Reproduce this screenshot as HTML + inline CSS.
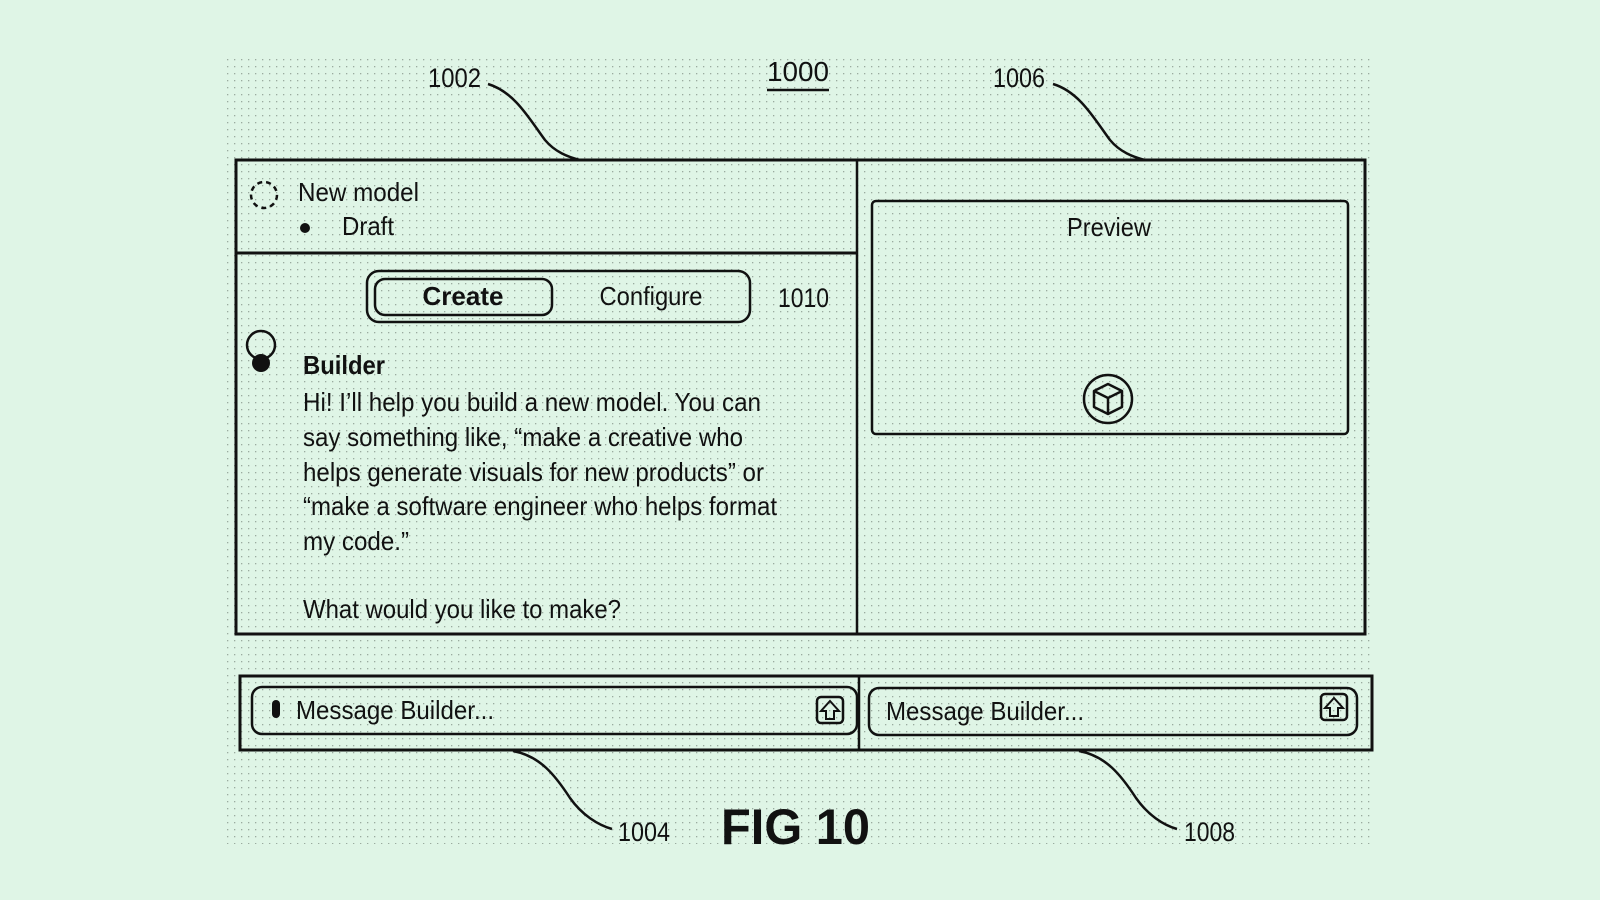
<!DOCTYPE html>
<html><head><meta charset="utf-8"><style>
html,body{margin:0;padding:0;background:#dff5e6;}
svg{display:block;}
text{font-family:"Liberation Sans",sans-serif;fill:#111;}
</style></head><body>
<svg width="1600" height="900" viewBox="0 0 1600 900" xmlns="http://www.w3.org/2000/svg">
<defs>
<pattern id="dots" width="7" height="7" patternUnits="userSpaceOnUse">
<rect x="3" y="3" width="1.3" height="1.3" fill="#9aab9f"/>
</pattern>
</defs>
<rect width="1600" height="900" fill="#dff5e6"/>
<rect x="224" y="54" width="1147" height="790" fill="url(#dots)"/>

<text x="767" y="81" font-size="28" textLength="62" lengthAdjust="spacingAndGlyphs">1000</text>
<line x1="767" y1="90" x2="829" y2="90" stroke="#111" stroke-width="2.5"/>
<text x="428" y="87" font-size="27" textLength="53" lengthAdjust="spacingAndGlyphs">1002</text>
<path d="M488 84 C515 92 530 120 545 140 C555 152 568 157 580 160" fill="none" stroke="#111" stroke-width="2.5"/>
<text x="993" y="87" font-size="27" textLength="52" lengthAdjust="spacingAndGlyphs">1006</text>
<path d="M1053 84 C1080 92 1095 120 1110 140 C1120 152 1133 157 1145 160" fill="none" stroke="#111" stroke-width="2.5"/>

<rect x="236" y="160" width="1129" height="474" fill="none" stroke="#111" stroke-width="3"/>
<line x1="857" y1="160" x2="857" y2="634" stroke="#111" stroke-width="2.5"/>
<line x1="236" y1="253" x2="857" y2="253" stroke="#111" stroke-width="3"/>

<circle cx="264" cy="195" r="13" fill="none" stroke="#111" stroke-width="2.5" stroke-dasharray="5 4"/>
<text x="298" y="201" font-size="26" textLength="121" lengthAdjust="spacingAndGlyphs">New model</text>
<circle cx="305" cy="228" r="5" fill="#111"/>
<text x="342" y="235" font-size="26" textLength="52" lengthAdjust="spacingAndGlyphs">Draft</text>

<rect x="367" y="271" width="383" height="51" rx="12" fill="none" stroke="#111" stroke-width="2.5"/>
<rect x="375" y="279" width="177" height="36" rx="10" fill="none" stroke="#111" stroke-width="2.5"/>
<text x="463" y="305" font-size="26" font-weight="bold" text-anchor="middle">Create</text>
<text x="651" y="305" font-size="26" text-anchor="middle" textLength="103" lengthAdjust="spacingAndGlyphs">Configure</text>
<text x="778" y="307" font-size="27" textLength="51" lengthAdjust="spacingAndGlyphs">1010</text>

<circle cx="261" cy="345" r="14" fill="none" stroke="#111" stroke-width="2.5"/>
<circle cx="261" cy="363" r="9" fill="#111"/>
<text x="303" y="374" font-size="26" font-weight="bold" textLength="82" lengthAdjust="spacingAndGlyphs">Builder</text>
<text x="303" y="411" font-size="26" textLength="458" lengthAdjust="spacingAndGlyphs">Hi! I’ll help you build a new model. You can</text>
<text x="303" y="446" font-size="26" textLength="440" lengthAdjust="spacingAndGlyphs">say something like, “make a creative who</text>
<text x="303" y="481" font-size="26" textLength="461" lengthAdjust="spacingAndGlyphs">helps generate visuals for new products” or</text>
<text x="303" y="515" font-size="26" textLength="474" lengthAdjust="spacingAndGlyphs">“make a software engineer who helps format</text>
<text x="303" y="550" font-size="26" textLength="106" lengthAdjust="spacingAndGlyphs">my code.”</text>
<text x="303" y="618" font-size="26" textLength="318" lengthAdjust="spacingAndGlyphs">What would you like to make?</text>

<rect x="872" y="201" width="476" height="233" rx="4" fill="none" stroke="#111" stroke-width="2.5"/>
<text x="1109" y="236" font-size="26" text-anchor="middle" textLength="84" lengthAdjust="spacingAndGlyphs">Preview</text>
<circle cx="1108" cy="399" r="24" fill="none" stroke="#111" stroke-width="2.5"/>
<path d="M1094 391 L1108 384 L1122 391 L1122 407 L1108 414 L1094 407 Z M1094 391 L1108 398 L1122 391 M1108 398 L1108 414" fill="none" stroke="#111" stroke-width="2.5" stroke-linejoin="round"/>

<rect x="240" y="676" width="1132" height="74" fill="none" stroke="#111" stroke-width="3"/>
<line x1="859" y1="676" x2="859" y2="750" stroke="#111" stroke-width="2.5"/>
<rect x="252" y="687" width="605" height="47" rx="10" fill="none" stroke="#111" stroke-width="2.5"/>
<rect x="869" y="688" width="488" height="47" rx="10" fill="none" stroke="#111" stroke-width="2.5"/>
<rect x="272" y="700" width="8" height="18" rx="4" fill="#111"/>
<text x="296" y="719" font-size="26" textLength="198" lengthAdjust="spacingAndGlyphs">Message Builder...</text>
<text x="886" y="720" font-size="26" textLength="198" lengthAdjust="spacingAndGlyphs">Message Builder...</text>
<rect x="817" y="697" width="26" height="26" rx="4" fill="none" stroke="#111" stroke-width="2.5"/>
<path d="M830 701 L839 711 L834 711 L834 719 L826 719 L826 711 L821 711 Z" fill="none" stroke="#111" stroke-width="2"/>
<rect x="1321" y="694" width="26" height="26" rx="4" fill="none" stroke="#111" stroke-width="2.5"/>
<path d="M1334 698 L1343 708 L1338 708 L1338 716 L1330 716 L1330 708 L1325 708 Z" fill="none" stroke="#111" stroke-width="2"/>

<path d="M513 751 C540 756 555 775 570 798 C582 815 598 825 612 829" fill="none" stroke="#111" stroke-width="2.5"/>
<text x="618" y="841" font-size="27" textLength="52" lengthAdjust="spacingAndGlyphs">1004</text>
<path d="M1079 751 C1106 756 1121 775 1136 798 C1148 815 1163 825 1177 829" fill="none" stroke="#111" stroke-width="2.5"/>
<text x="1184" y="841" font-size="27" textLength="51" lengthAdjust="spacingAndGlyphs">1008</text>
<text x="721" y="844" font-size="50" font-weight="bold" textLength="149" lengthAdjust="spacingAndGlyphs">FIG 10</text>
</svg>
</body></html>
